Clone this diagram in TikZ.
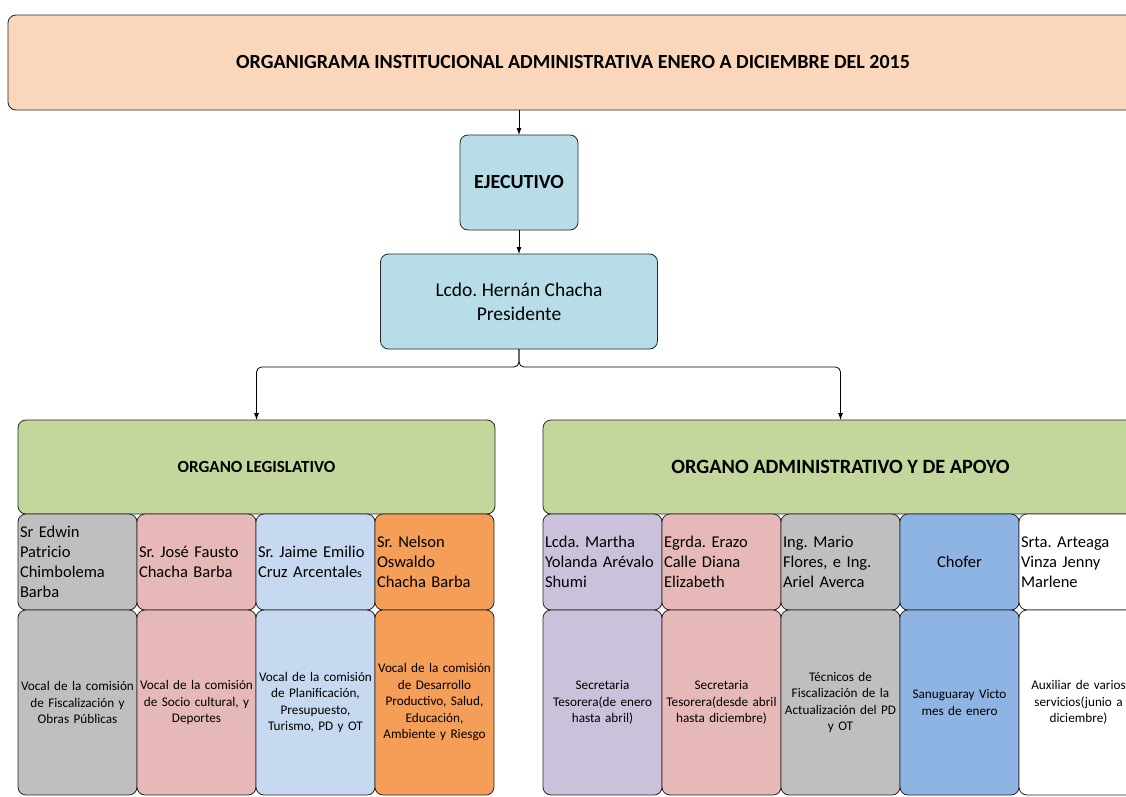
\documentclass[tikz,border=0pt]{standalone}
\usepackage{fontspec}
\setmainfont{Carlito}
\usetikzlibrary{arrows.meta, positioning}
\usepackage{xcolor}
\definecolor{durazno}{RGB}{250, 215, 187}
\definecolor{celeste}{RGB}{183, 221, 232}
\definecolor{verdeorg}{RGB}{195, 214, 155}
\definecolor{gris}{RGB}{191, 191, 191}
\definecolor{rosa}{RGB}{230, 185, 184}
\definecolor{azulclaro}{RGB}{198, 217, 241}
\definecolor{naranja}{RGB}{245, 158, 87}
\definecolor{lila}{RGB}{204, 193, 218}
\definecolor{azulchofer}{RGB}{142, 180, 227}
\frenchspacing

\begin{document}
\begin{tikzpicture}[
            x=1pt, y=-1pt,
            box/.style={draw=black!85, line width=0.8pt, rounded corners=8pt, inner sep=2pt, outer sep=0pt, align=center},
            titulo/.style={box, fill=durazno, minimum width=1130pt, minimum height=95pt, font=\fontsize{20}{24}\selectfont\bfseries},
            jefe/.style={box, fill=celeste, minimum height=95pt},
            organo/.style={box, fill=verdeorg, minimum height=94pt},
            nombre/.style={box, minimum width=119pt, minimum height=96pt, text width=115pt, inner xsep=2pt, align=left, font=\fontsize{16.5}{20}\selectfont},
            funcion/.style={box, minimum width=119pt, minimum height=185pt, text width=117pt, inner xsep=1pt, font=\fontsize{13.2}{16.5}\selectfont},
            conector/.style={draw=black, line width=0.8pt, rounded corners=5pt, -{Latex[length=7pt, width=5pt]}}
        ]
            \useasboundingbox (0,0) rectangle (1126,797);
            \clip (0,0) rectangle (1126,797);

            % Nodes
            \node[titulo, anchor=north west] (banner) at (8,15) {ORGANIGRAMA INSTITUCIONAL ADMINISTRATIVA ENERO A DICIEMBRE DEL 2015};
            \node[jefe, minimum width=118pt, font=\fontsize{20}{24}\selectfont\bfseries, anchor=north] (ejec) at (519,135) {EJECUTIVO};
            \node[jefe, minimum width=277pt, font=\fontsize{19.5}{24}\selectfont, below=24pt of ejec] (pres) {Lcdo. Hernán Chacha\\Presidente};

            \node[organo, minimum width=477pt, font=\fontsize{17}{20}\selectfont\bfseries, anchor=north west] (leg) at (18,420) {ORGANO LEGISLATIVO};
            \node[organo, minimum width=595pt, font=\fontsize{20.3}{24}\selectfont\bfseries, anchor=north west] (adm) at (543,420) {ORGANO ADMINISTRATIVO Y DE APOYO};
            \coordinate (nudo) at (519,367);

            % Organo legislativo
            \node[nombre, fill=gris, anchor=north west] (l1) at (leg.south west) {Sr Edwin\\Patricio\\Chimbolema\\Barba};
            \node[nombre, fill=rosa, right=0pt of l1] (l2) {Sr. José Fausto\\Chacha Barba};
            \node[nombre, fill=azulclaro, right=0pt of l2] (l3) {Sr. Jaime Emilio\\Cruz Arcentale{\fontsize{12}{20}\selectfont s}};
            \node[nombre, fill=naranja, right=0pt of l3] (l4) {Sr. Nelson\\Oswaldo\\Chacha Barba};

            \node[funcion, fill=gris, below=0pt of l1] (lf1) {Vocal de la comisión\\de Fiscalización y\\Obras Públicas};
            \node[funcion, fill=rosa, below=0pt of l2] (lf2) {Vocal de la comisión\\de Socio cultural, y\\Deportes};
            \node[funcion, fill=azulclaro, below=0pt of l3] (lf3) {Vocal de la comisión\\de Planificación,\\Presupuesto,\\Turismo, PD y OT};
            \node[funcion, fill=naranja, below=0pt of l4] (lf4) {Vocal de la comisión\\de Desarrollo\\Productivo, Salud,\\Educación,\\Ambiente y Riesgo};

            % Organo administrativo
            \node[nombre, fill=lila, anchor=north west] (a1) at (adm.south west) {Lcda. Martha\\Yolanda Arévalo\\Shumi};
            \node[nombre, fill=rosa, right=0pt of a1] (a2) {Egrda. Erazo\\Calle Diana\\Elizabeth};
            \node[nombre, fill=gris, right=0pt of a2] (a3) {Ing. Mario\\Flores, e Ing.\\Ariel Averca};
            \node[nombre, fill=azulchofer, align=center, right=0pt of a3] (a4) {Chofer};
            \node[nombre, fill=white, right=0pt of a4] (a5) {Srta. Arteaga\\Vinza Jenny\\Marlene};

            \node[funcion, fill=lila, below=0pt of a1] (af1) {Secretaria\\Tesorera(de enero\\hasta abril)};
            \node[funcion, fill=rosa, below=0pt of a2] (af2) {Secretaria\\Tesorera(desde abril\\hasta diciembre)};
            \node[funcion, fill=gris, below=0pt of a3] (af3) {Técnicos de\\Fiscalización de la\\Actualización del PD\\y OT};
            \node[funcion, fill=azulchofer, below=0pt of a4] (af4) {Sanuguaray Victo\\mes de enero};
            \node[funcion, fill=white, below=0pt of a5] (af5) {Auxiliar de varios\\servicios(junio a\\diciembre)};

            % Arrows
            \draw[conector] (banner.south -| ejec.north) -- (ejec.north);
            \draw[conector] (ejec) -- (pres);
            \draw[conector] (pres.south) |- (leg.north |- nudo) -- (leg.north);
            \draw[conector] (pres.south) |- (adm.north |- nudo) -- (adm.north);
        \end{tikzpicture}
\end{document}
